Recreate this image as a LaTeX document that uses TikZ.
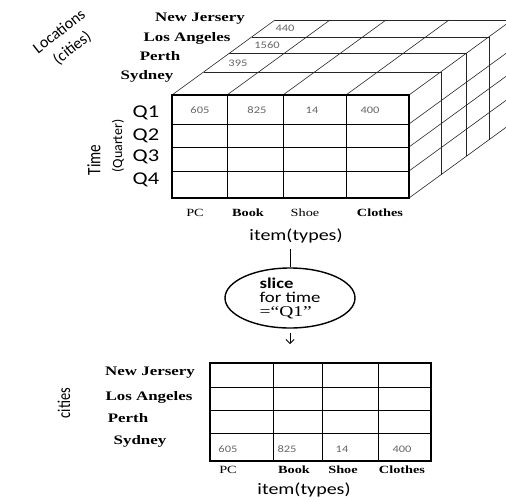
\documentclass[tikz,border=0pt]{standalone}
\usepackage{fontspec}
\usepackage{tikz}
\usetikzlibrary{arrows.meta, positioning, shapes.geometric, calc}

\newfontfamily\cityfont[FakeStretch=1.3]{Liberation Serif}
\newfontfamily\axisfont[FakeStretch=1.25]{Carlito}
\newfontfamily\vertfont[FakeStretch=0.8]{Carlito}
\newfontfamily\plainsans{Carlito}

\begin{document}
\begin{tikzpicture}[
  x=1pt, y=-1pt,
  >={Straight Barb[length=4pt]},
  citylbl/.style={font=\cityfont\fontsize{13}{15}\selectfont\bfseries, inner sep=0pt},
  itemlbl/.style={font=\cityfont\fontsize{11}{13}\selectfont, inner sep=0pt},
  boldlbl/.style={font=\cityfont\fontsize{11}{13}\selectfont\bfseries, inner sep=0pt},
  cellval/.style={font=\axisfont\fontsize{10}{11}\selectfont, text=black!60, inner sep=0pt},
  qlbl/.style={font=\axisfont\fontsize{18}{20}\selectfont, inner sep=0pt},
  axislbl/.style={font=\axisfont\fontsize{16}{18}\selectfont, inner sep=0pt},
  cubeline/.style={line width=0.6pt, draw=black!85},
  gridline/.style={line width=0.9pt},
  frontline/.style={line width=1.8pt},
  slicebox/.style={ellipse, draw, line width=1.4pt, minimum width=130pt, minimum height=60pt,
    inner sep=0pt, align=left, font=\axisfont\fontsize{15}{14}\selectfont}
]
  \useasboundingbox (0,0) rectangle (506,501);
  \clip (0,0) rectangle (506,501);

  % cube: top and right faces
  \foreach \dx/\dy in {32/-23, 57/-42, 80/-58, 103/-75} {
    \draw[cubeline] ({172+\dx},{95+\dy}) -- ({409+\dx},{95+\dy});
    \draw[cubeline] ({409+\dx},{95+\dy}) -- ({409+\dx},{198+\dy});
  }
  \foreach \x in {172,227,283,346,409}
    \draw[cubeline] (\x,95) -- ++(103,-75);
  \foreach \y in {124,147,171,198}
    \draw[cubeline] (409,\y) -- ++(103,-75);

  % cube: front face
  \foreach \x in {227,283,346}
    \draw[gridline] (\x,95) -- (\x,198);
  \foreach \y in {124,147,171}
    \draw[gridline] (172,\y) -- (409,\y);
  \draw[frontline] (172,95) rectangle (409,198);

  \node[font=\plainsans\fontsize{16}{21}\selectfont, rotate=38, align=center, inner sep=0pt]
    (loc) at (66,40) {Locations\\(cities)};

  \node[citylbl] (nj)    at (200,19) {New Jersery};
  \node[citylbl] (la)    at (187,38) {Los Angeles};
  \node[citylbl] (perth) at (160,56) {Perth};
  \node[citylbl] (syd)   at (147,76) {Sydney};

  \node[cellval] (v440)  at (285,28) {440};
  \node[cellval] (v1560) at (267,45) {1560};
  \node[cellval] (v395)  at (238,63) {395};
  \node[cellval] (f605)  at (200,110) {605};
  \node[cellval] (f825)  at (257,110) {825};
  \node[cellval] (f14)   at (312,110) {14};
  \node[cellval] (f400)  at (370,110) {400};

  \node[qlbl] (q1) at (146,113) {Q1};
  \node[qlbl] (q2) at (146,136) {Q2};
  \node[qlbl] (q3) at (146,157) {Q3};
  \node[qlbl] (q4) at (146,180) {Q4};
  \node[font=\vertfont\fontsize{19}{19}\selectfont, rotate=90, inner sep=0pt] (time) at (94,160) {Time};
  \node[font=\plainsans\fontsize{14}{14}\selectfont, rotate=90, inner sep=0pt] (quarter) at (118,146) {(Quarter)};

  \node[itemlbl] (pc)      at (195,213) {PC};
  \node[boldlbl] (book)    at (248,213) {Book};
  \node[itemlbl] (shoe)    at (305,213) {Shoe};
  \node[boldlbl] (clothes) at (380,213) {Clothes};
  \node[axislbl] (items) at (296,236) {item(types)};

  % slice operation
  \node[slicebox] (slice) at (290,298) {\textbf{slice}\\for time\\{\cityfont =“Q1”}};
  \coordinate (tabtop) at (290,344);
  \draw[line width=0.8pt] (slice.north |- items.south) ++(0,6) -- (slice.north);
  \draw[->, line width=0.8pt] (slice.south) ++(0,4) -- (tabtop);

  % sliced table
  \foreach \x in {273,322,378}
    \draw[gridline] (\x,363) -- (\x,461);
  \foreach \y in {387,410,433}
    \draw[gridline] (210,\y) -- (431,\y);
  \draw[frontline] (210,363) rectangle (431,461);

  \node[citylbl] (nj2)    at (150,373) {New Jersery};
  \node[citylbl] (la2)    at (149,397) {Los Angeles};
  \node[citylbl] (perth2) at (128,418) {Perth};
  \node[citylbl] (syd2)   at (140,441) {Sydney};
  \node[font=\vertfont\fontsize{18}{18}\selectfont, rotate=90, inner sep=0pt] (cities) at (64,403) {cities};

  \node[cellval] (b605) at (228,449) {605};
  \node[cellval] (b825) at (287,449) {825};
  \node[cellval] (b14)  at (342,449) {14};
  \node[cellval] (b400) at (402,449) {400};

  \node[itemlbl] (pc2)      at (228,470) {PC};
  \node[boldlbl] (book2)    at (294,470) {Book};
  \node[boldlbl] (shoe2)    at (343,470) {Shoe};
  \node[boldlbl] (clothes2) at (402,470) {Clothes};
  \node[axislbl] (items2) at (304,490) {item(types)};
\end{tikzpicture}
\end{document}
